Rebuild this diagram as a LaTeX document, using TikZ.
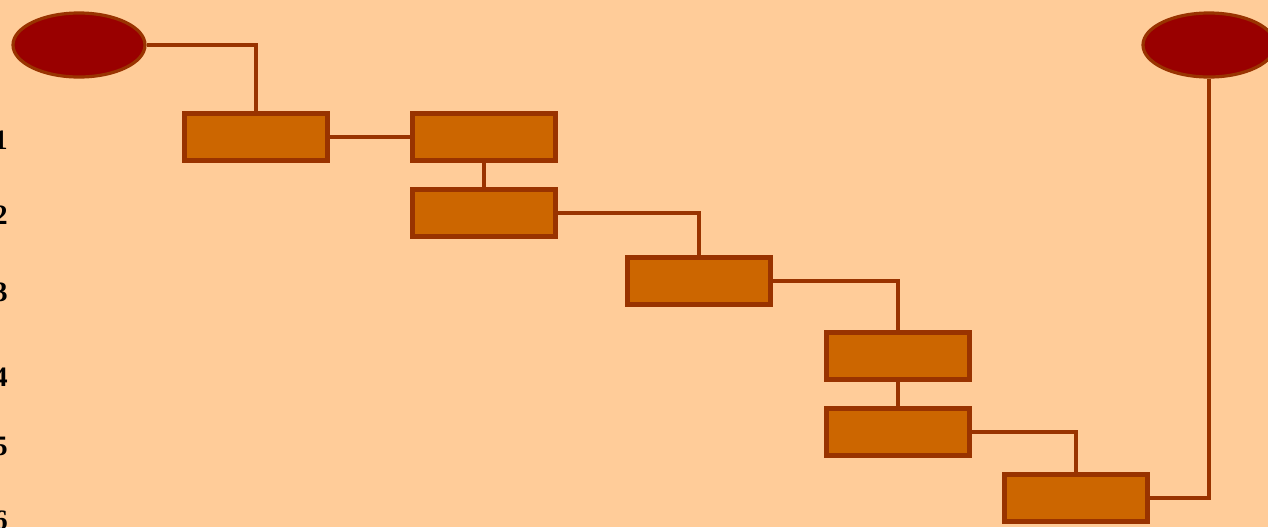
\documentclass[tikz,border=0pt]{standalone}
\usepackage{fontspec}
\setmainfont{Liberation Serif}
\usetikzlibrary{shapes.geometric}
\definecolor{peach}{HTML}{FFCC99}
\definecolor{rust}{HTML}{993300}
\definecolor{ochre}{HTML}{CC6600}
\definecolor{wine}{HTML}{990000}
\tikzset{block/.style = {draw=rust, fill=ochre, line width=1.2mm, rectangle, inner sep=0pt, minimum height=1.17cm, minimum width=3.57cm},
         term/.style = {draw=rust, fill=wine, line width=0.8mm, ellipse, inner sep=0pt, minimum height=1.6cm, minimum width=3.3cm},
         link/.style = {draw=rust, line width=1.2mm},
         num/.style = {anchor=east, inner sep=0pt, font=\fontsize{20}{20}\selectfont\bfseries}}

\begin{document}
\begin{tikzpicture}[x=0.025cm,y=-0.025cm]
        \fill[peach](0,0)rectangle(1268,527);
        \useasboundingbox(0,0)rectangle(1268,527);

        \node[term](s)at(79,45){};
        \node[term](t)at(1209,45){};

        \node[block](b1)at(256,137){};
        \node[block](b2)at(484,137){};
        \node[block](b3)at(484,213){};
        \node[block](b4)at(699,281){};
        \node[block](b5)at(898,356){};
        \node[block](b6)at(898,432){};
        \node[block](b7)at(1076,498){};

        \draw[link](s.east)-|(b1.north);
        \draw[link](b1.east)--(b2.west);
        \draw[link](b2.south)--(b3.north);
        \draw[link](b3.east)-|(b4.north);
        \draw[link](b4.east)-|(b5.north);
        \draw[link](b5.south)--(b6.north);
        \draw[link](b6.east)-|(b7.north);
        \draw[link](b7.east)-|(t.south);

        \node[num](n1)at(8,140){1};
        \node[num](n2)at(8,215){2};
        \node[num](n3)at(8,292){3};
        \node[num](n4)at(8,377){4};
        \node[num](n5)at(8,446){5};
        \node[num](n6)at(8,520){6};
    \end{tikzpicture}
\end{document}
